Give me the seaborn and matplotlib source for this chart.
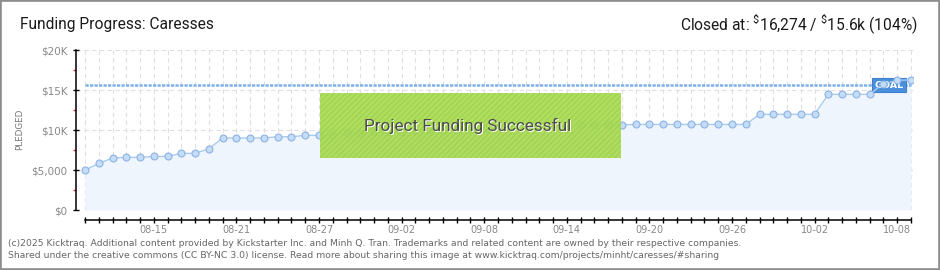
import numpy as np
import pandas as pd
import matplotlib
matplotlib.use("Agg")
import matplotlib.pyplot as plt
import matplotlib.dates as mdates
from matplotlib.patches import Rectangle
from matplotlib.transforms import offset_copy
import seaborn as sns

# ---------------- data ----------------
start_date = "2025-08-10"
pledged = [4980, 5830, 6500, 6580, 6580, 6700, 6700, 7080, 7080, 7660,
           9000, 9000, 9000, 9000, 9160, 9160, 9330, 9330, 9400, 9580,
           9660, 9700, 9750, 9800, 9900, 9950, 10000, 10050, 10100, 10150,
           10200, 10300, 10350, 10450, 10500, 10600, 10650, 10650, 10650, 10650,
           10700, 10700, 10700, 10700, 10700, 10700, 10700, 10700, 10700, 11960,
           11960, 11960, 11960, 11960, 14460, 14460, 14460, 14460, 15790, 16200,
           16274]
goal = 15600
x_tick_labels = ["08-15", "08-21", "08-27", "09-02", "09-08",
                 "09-14", "09-20", "09-26", "10-02", "10-08"]
y_tick_values = [0, 5000, 10000, 15000, 20000]
y_tick_labels = ["$0", "$5,000", "$10K", "$15K", "$20K"]
y_minor_values = [2500, 7500, 12500, 17500]
title = "Funding Progress: Caresses"
closed_text = r"Closed at: $^{\$}$16,274 / $^{\$}$15.6k (104%)"
banner_text = "Project Funding Successful"
footer_1 = ("(c)2025 Kicktraq. Additional content provided by Kickstarter Inc. and Minh Q. Tran. "
            "Trademarks and related content are owned by their respective companies.")
footer_2 = ("Shared under the creative commons (CC BY-NC 3.0) license. Read more about sharing "
            "this image at www.kicktraq.com/projects/minht/caresses/#sharing")

dates = pd.date_range(start_date, periods=len(pledged), freq="D")
df = pd.DataFrame({"date": dates, "pledged": pledged})
tick_dates = [pd.Timestamp(start_date[:5] + lab) for lab in x_tick_labels]

# ---------------- style ----------------
sns.set_theme(style="white")
plt.rcParams["font.family"] = ["DejaVu Sans"]
plt.rcParams["mathtext.fontset"] = "custom"
plt.rcParams["mathtext.rm"] = "Roboto"
plt.rcParams["mathtext.default"] = "rm"
plt.rcParams["hatch.linewidth"] = 0.6

W, H = 940, 270
fig = plt.figure(figsize=(W / 100, H / 100), dpi=100, facecolor="white")
ax = fig.add_axes([76 / W, 1 - 210 / H, (913 - 76) / W, 160 / H])
ax.set_facecolor("white")

# fill + line
ax.fill_between(df["date"], df["pledged"], 0, color="#EEF5FD", zorder=1, linewidth=0)
sns.lineplot(data=df, x="date", y="pledged", ax=ax, color="#A9CBF0", linewidth=1.0,
             marker="o", markersize=5.0, markerfacecolor="#C4DCF7",
             markeredgecolor="#8DB3E2", markeredgewidth=0.8, zorder=4)

# goal line
ax.hlines(goal, dates[0], dates[-1], colors="#7DB1EA", linewidth=1.8,
          linestyles=(0, (1.3, 0.5)), zorder=3)
ax.annotate("GOAL", xy=(dates[-1], goal), xytext=(-5.5, 0), textcoords="offset points",
            ha="right", va="center", fontsize=6.8, color="white", fontweight="bold",
            bbox=dict(boxstyle="square,pad=0.25", fc="#4A8FDB", ec="#3D80CF", lw=0.8),
            zorder=3.5)

# axes limits
ax.set_xlim(dates[0] - pd.Timedelta(hours=15.7), dates[-1] + pd.Timedelta(hours=3.6))
ax.set_ylim(0, 20000)

# ticks / grid
ax.xaxis.set_minor_locator(mdates.DayLocator())
ax.set_xticks(tick_dates)
ax.set_xticklabels(x_tick_labels)
ax.set_yticks(y_tick_values)
ax.set_yticklabels(y_tick_labels)
ax.set_yticks(y_minor_values, minor=True)
ax.grid(axis="x", which="both", color="#E0E0E0", linestyle=(0, (4, 3)), linewidth=0.8, zorder=0)
ax.grid(axis="y", which="major", color="#E0E0E0", linestyle=(0, (4, 3)), linewidth=0.8, zorder=0)
ax.set_axisbelow(True)

for s in ["top", "right"]:
    ax.spines[s].set_visible(False)
ax.spines["left"].set_color("black")
ax.spines["left"].set_linewidth(1.1)
ax.spines["bottom"].set_color("black")
ax.spines["bottom"].set_linewidth(1.1)
ax.spines["bottom"].set_position(("outward", 7.2))
ax.spines["bottom"].set_bounds(mdates.date2num(dates[0]), mdates.date2num(dates[-1]))

ax.tick_params(axis="x", which="both", direction="inout", length=4.5, width=1.0,
               color="black", bottom=True)
ax.tick_params(axis="x", which="major", labelsize=7, labelcolor="#888888", pad=1.5)
ax.tick_params(axis="y", which="major", direction="inout", length=4, width=1.0,
               color="black", left=True, labelsize=7.5, labelcolor="#888888", pad=4)
ax.tick_params(axis="y", which="minor", direction="out", length=2.5, width=1.0,
               color="#E02020", left=True)
ax.set_xlabel("")
ax.set_ylabel("")

# y label
fig.text(20 / W, 1 - 129 / H, "PLEDGED", rotation=90, ha="center", va="center",
         fontsize=6.3, color="#777777")

# titles
fig.text(20 / W, 1 - 24 / H, title, ha="left", va="center", fontsize=11.2,
         family=["Roboto", "DejaVu Sans"], color="#1A1A1A")
fig.text(918 / W, 1 - 24 / H, closed_text, ha="right", va="center", fontsize=11.2,
         family=["Roboto", "DejaVu Sans"], color="#1A1A1A")

# success banner
fig.add_artist(Rectangle((320 / W, 1 - 158 / H), 301 / W, 65 / H, transform=fig.transFigure,
                         facecolor=(0.655, 0.855, 0.310, 0.9), edgecolor="#9ACD45",
                         linewidth=0, hatch="//////", zorder=10))
shadow_tr = offset_copy(fig.transFigure, fig=fig, x=1, y=-1, units="dots")
fig.text(468 / W, 1 - 126 / H, banner_text, ha="center", va="center", fontsize=12.3,
         family=["Roboto", "DejaVu Sans"], color="white", zorder=11, transform=shadow_tr)
fig.text(468 / W, 1 - 126 / H, banner_text, ha="center", va="center", fontsize=12.3,
         family=["Roboto", "DejaVu Sans"], color="#4A4A4A", zorder=12)

# footer
fig.text(8 / W, 1 - 243.5 / H, footer_1, ha="left", va="center", fontsize=6.65, color="#666666")
fig.text(8 / W, 1 - 255.5 / H, footer_2, ha="left", va="center", fontsize=6.65, color="#666666")

# outer border
fig.add_artist(Rectangle((0, 0), 1, 1, transform=fig.transFigure, fill=False,
                         edgecolor="#8C8C8C", linewidth=2.6, zorder=20))

fig.savefig("out.png", dpi=100, facecolor="white")
